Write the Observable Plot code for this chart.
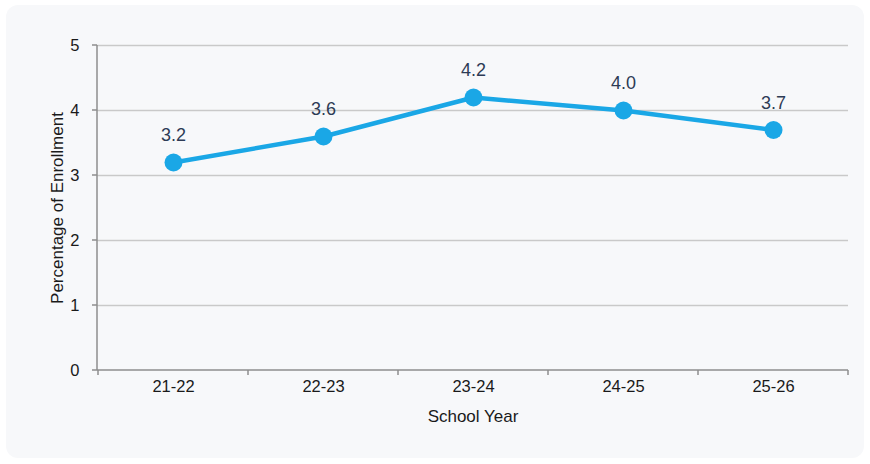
<!DOCTYPE html>
<html>
<head>
<meta charset="utf-8">
<script src="https://cdn.jsdelivr.net/npm/d3@7"></script>
<script src="https://cdn.jsdelivr.net/npm/@observablehq/plot@0.6"></script>
<style>
  body { margin: 0; background: #ffffff; }
  #card { position: absolute; left: 6px; top: 5px; width: 858px; height: 453px; background: #f7f8fa; border-radius: 12px; }
  #chart { position: absolute; left: 0; top: 0; }
</style>
</head>
<body>
<div id="card"></div>
<div id="chart"></div>
<script>
// Share of enrollment by school year
const schoolYears = ["21-22", "22-23", "23-24", "24-25", "25-26"];
const enrollmentPct = [3.2, 3.6, 4.2, 4.0, 3.7];
const yTicks = [0, 1, 2, 3, 4, 5];

const data = schoolYears.map((year, i) => ({year, pct: enrollmentPct[i]}));

const axisGray = "#8e8e8e";
const textColor = "#1a1a1a";

// Axis lines plus tick marks: y ticks on the left, x ticks on band boundaries
function axisLines(index, scales, values, dimensions) {
  const {x, y} = scales;
  const {width, height, marginLeft, marginRight, marginBottom} = dimensions;
  const bw = typeof x.bandwidth === "function" ? x.bandwidth() : x.bandwidth;
  const y0 = height - marginBottom;
  const g = d3.create("svg:g").attr("stroke", axisGray).attr("stroke-width", 1.5).attr("fill", "none");
  // left axis line
  g.append("line").attr("x1", marginLeft).attr("x2", marginLeft).attr("y1", y(5)).attr("y2", y(0));
  // y tick marks
  for (const t of yTicks) {
    g.append("line").attr("x1", marginLeft - 5).attr("x2", marginLeft).attr("y1", y(t)).attr("y2", y(t));
  }
  // bottom axis line
  g.append("line").attr("x1", marginLeft).attr("x2", width - marginRight).attr("y1", y0).attr("y2", y0);
  // x tick marks at band edges
  const edges = schoolYears.map(d => x(d)).concat([x(schoolYears[schoolYears.length - 1]) + bw]);
  for (const e of edges) {
    g.append("line").attr("x1", e).attr("x2", e).attr("y1", y0).attr("y2", y0 + 5);
  }
  return g.node();
}

const chart = Plot.plot({
  width: 870,
  height: 464,
  marginLeft: 97,
  marginRight: 22,
  marginTop: 45,
  marginBottom: 94,
  style: {background: "transparent", fontFamily: "'Liberation Sans', Arial, sans-serif"},
  x: {type: "band", domain: schoolYears, padding: 0},
  y: {domain: [0, 5]},
  marks: [
    Plot.gridY(yTicks.slice(1), {stroke: "#c9c9c9", strokeOpacity: 1, strokeWidth: 1.5}),
    axisLines,
    Plot.axisY(yTicks, {tickSize: 0, tickPadding: 18, fontSize: 16.5, fill: textColor, tickFormat: d => String(d), label: null}),
    Plot.axisX({tickSize: 0, tickPadding: 10, fontSize: 16.5, fill: textColor, label: null}),
    Plot.text(["Percentage of Enrollment"], {frameAnchor: "left", rotate: -90, textAnchor: "middle", lineAnchor: "middle", dx: -40, dy: 0, fontSize: 17, fill: textColor}),
    Plot.text(["School Year"], {frameAnchor: "bottom", lineAnchor: "middle", dy: 46, fontSize: 17, fill: textColor}),
    Plot.line(data, {x: "year", y: "pct", stroke: "#1aa7e6", strokeWidth: 4.5}),
    Plot.dot(data, {x: "year", y: "pct", r: 9, fill: "#1aa7e6"}),
    Plot.text(data, {x: "year", y: "pct", text: d => d.pct.toFixed(1), dy: -27, lineAnchor: "middle", fontSize: 18, fill: "#2d3b55"})
  ]
});

document.getElementById("chart").appendChild(chart);
</script>
</body>
</html>
